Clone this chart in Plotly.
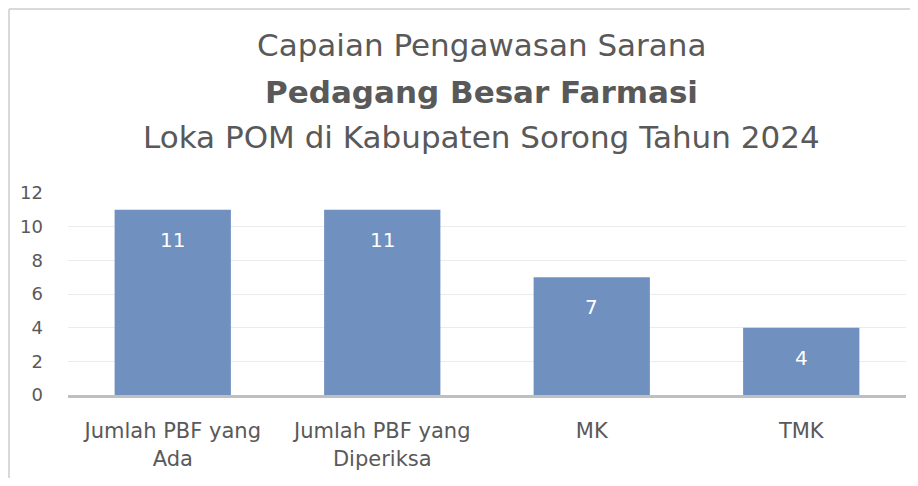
import plotly.graph_objects as go

categories = ["Jumlah PBF yang<br>Ada", "Jumlah PBF yang<br>Diperiksa", "MK", "TMK"]
values = [11, 11, 7, 4]
title_lines = [
    "Capaian Pengawasan Sarana",
    "<b>Pedagang Besar Farmasi</b>",
    "Loka POM di Kabupaten Sorong Tahun 2024",
]

FONT = "DejaVu Sans"
GREY = "#595959"

fig = go.Figure()

fig.add_trace(go.Bar(
    x=categories,
    y=values,
    textposition="none",
    marker=dict(color="#7090c0", line=dict(width=0)),
))

# value labels sit a little below the top of each bar
for cat, val in zip(categories, values):
    fig.add_annotation(
        x=cat, y=val, text=str(val), showarrow=False,
        yanchor="middle", yshift=-30,
        font=dict(size=20, color="white", family=FONT),
    )

# three title lines placed separately to get the wide line spacing
for y, line in zip([1.733, 1.5, 1.277], title_lines):
    fig.add_annotation(
        text=line, x=0.494, y=y, xref="paper", yref="paper",
        showarrow=False, xanchor="center", yanchor="middle",
        font=dict(size=31, color=GREY, family=FONT),
    )

# light frame around the chart (top and left edges)
fig.add_shape(type="line", xref="paper", yref="paper",
              x0=-59 / 838, x1=1.01, y0=1 + 184 / 202, y1=1 + 184 / 202,
              line=dict(color="#d9d9d9", width=2))
fig.add_shape(type="line", xref="paper", yref="paper",
              x0=-59 / 838, x1=-59 / 838, y0=1 + 184 / 202, y1=-0.5,
              line=dict(color="#d9d9d9", width=2))

fig.update_layout(
    width=902, height=470,
    margin=dict(l=60, r=4, t=185, b=83),
    paper_bgcolor="white", plot_bgcolor="white",
    bargap=0.445,
    showlegend=False,
    font=dict(family=FONT, color=GREY),
)
fig.update_xaxes(
    tickfont=dict(size=21, color=GREY, family=FONT),
    showgrid=False, showline=True, linecolor="#bfbfbf", linewidth=3,
    ticks="", ticklabelstandoff=15,
)
fig.update_yaxes(
    range=[0, 12], dtick=2, tickfont=dict(size=18, color=GREY, family=FONT),
    showgrid=True, gridcolor="#ebebeb", gridwidth=1,
    zeroline=False, ticklabelstandoff=24,
)

fig.write_html("out.html")
